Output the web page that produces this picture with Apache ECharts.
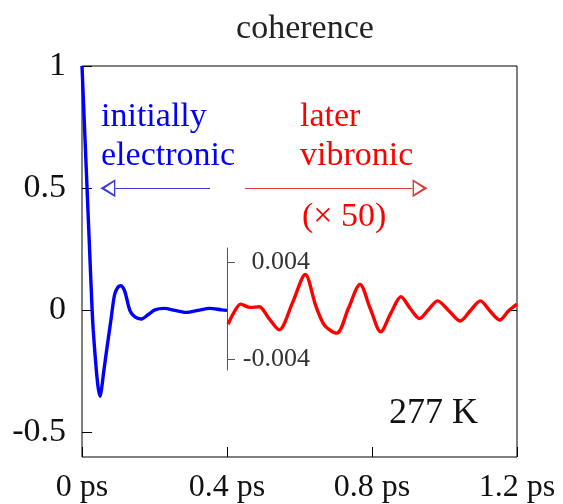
<!DOCTYPE html>
<html>
<head>
<meta charset="utf-8">
<script src="https://cdn.jsdelivr.net/npm/echarts@6/dist/echarts.min.js"></script>
<style>
  html, body { margin: 0; padding: 0; background: #fff; }
  #chart { width: 563px; height: 504px; }
</style>
</head>
<body>
<div id="chart"></div>
<script>
// electronic part (first 0.4 ps)
const blueT = [0, 0.012, 0.022, 0.028, 0.031, 0.037, 0.044, 0.050, 0.055, 0.060, 0.070, 0.080, 0.090, 0.0995, 0.107, 0.118, 0.132, 0.146, 0.164, 0.182, 0.201, 0.227, 0.256, 0.288, 0.320, 0.353, 0.385, 0.4]
const blueV = [1.0, 0.57, 0.21, 0.0, -0.08, -0.20, -0.31, -0.352, -0.31, -0.25, -0.142, -0.037, 0.065, 0.096, 0.101, 0.078, 0.0, -0.027, -0.035, -0.018, 0.002, 0.008, 0.0, -0.008, 0.0, 0.008, 0.002, 0.0]

// vibronic part, in units of the inset axis
const redT = [0.403, 0.42, 0.4375, 0.463, 0.489, 0.515, 0.544, 0.58, 0.616, 0.645, 0.670, 0.703, 0.735, 0.767, 0.795, 0.824, 0.852, 0.880, 0.905, 0.931, 0.956, 0.981, 1.012, 1.043, 1.071, 1.099, 1.125, 1.152, 1.177, 1.2]
const redV = [-0.00111, -0.0001, 0.00054, 0.00027, 0.00032, -0.0006, -0.00157, 0.0006, 0.00297, 0.0004, -0.00124, -0.00184, 0.0002, 0.00216, 0.0002, -0.00173, -0.0002, 0.00114, 0.0002, -0.00065, 0.0001, 0.00081, 0.0, -0.00084, 0.0, 0.00081, 0.0, -0.00076, 0.0, 0.00054]

const yTicks = [-0.5, 0, 0.5, 1]
const insetTicks = [-0.004, 0.004]

// arrow annotations (data units): [start, end] along y = 0.5
const arrowBlue = [0.353, 0.092]
const arrowRed = [0.449, 0.912]
const arrowY = 0.5

const serif = '"Liberation Serif", "DejaVu Serif", serif'
// open triangle pointing up; the bottom point pushes the box centre onto the base
const headPath = 'path://M6,0 L12,12 L0,12 Z M6,3.4 L1.9,10.9 L10.1,10.9 Z M6,23.9 L6,24'

const chart = echarts.init(document.getElementById('chart'))

const option = {
  animation: false,
  backgroundColor: '#fff',
  title: {
    text: 'coherence',
    left: 300,
    top: 7,
    textAlign: 'center',
    textStyle: { fontFamily: serif, fontSize: 34, fontWeight: 'normal', color: '#222' }
  },
  grid: [
    { left: 82, right: 46, top: 66, bottom: 47, show: true, borderColor: '#000', borderWidth: 1, outerBoundsMode: 'none' },
    { left: 227, right: 46, top: 248, bottom: 134, show: false, outerBoundsMode: 'none' }
  ],
  xAxis: [
    {
      type: 'value', gridIndex: 0, min: 0, max: 1.2, interval: 0.4,
      axisLine: { show: false, onZero: false },
      axisTick: { inside: true, length: 10, lineStyle: { color: '#000' } },
      splitLine: { show: false },
      axisLabel: {
        margin: 15, fontFamily: serif, fontSize: 32, color: '#111',
        formatter: v => v + ' ps'
      }
    },
    { type: 'value', gridIndex: 1, min: 0.4, max: 1.2, show: false, axisLine: { onZero: false } }
  ],
  yAxis: [
    {
      type: 'value', gridIndex: 0, min: -0.6, max: 1,
      axisLine: { show: false, onZero: false },
      axisTick: { inside: true, length: 10, customValues: yTicks, lineStyle: { color: '#000' } },
      splitLine: { show: false },
      axisLabel: {
        customValues: yTicks, margin: 16, fontFamily: serif, fontSize: 34, color: '#111',
        padding: [4, 0, 0, 0],
        formatter: v => String(v)
      }
    },
    {
      type: 'value', gridIndex: 0, min: -0.6, max: 1, position: 'right',
      axisLine: { show: false, onZero: false },
      axisTick: { inside: true, length: 7, customValues: [0], lineStyle: { color: '#000' } },
      axisLabel: { show: false },
      splitLine: { show: false }
    },
    {
      type: 'value', gridIndex: 1, min: -0.00486, max: 0.00514, position: 'left',
      axisLine: { show: true, onZero: false, lineStyle: { color: '#555', width: 1 } },
      axisTick: { inside: true, length: 8, customValues: insetTicks, lineStyle: { color: '#555' } },
      splitLine: { show: false },
      axisLabel: {
        inside: true, align: 'right', margin: 83, customValues: insetTicks,
        fontFamily: serif, fontSize: 26, color: '#333',
        formatter: v => String(v)
      }
    }
  ],
  series: [
    {
      type: 'line', xAxisIndex: 0, yAxisIndex: 0,
      data: blueT.map((t, i) => [t, blueV[i]]),
      smooth: 0.3, showSymbol: false,
      lineStyle: { color: '#0000ff', width: 3.4 },
      markLine: {
        silent: true, animation: false,
        symbol: ['none', headPath], symbolSize: [18, 30],
        label: { show: false },
        lineStyle: { color: '#3c3cd2', width: 1, type: 'solid' },
        data: [
          [{ coord: [arrowBlue[0], arrowY] }, { coord: [arrowBlue[1], arrowY] }]
        ]
      }
    },
    {
      type: 'line', xAxisIndex: 0, yAxisIndex: 0,
      data: [],
      markLine: {
        silent: true, animation: false,
        symbol: ['none', headPath], symbolSize: [18, 30],
        label: { show: false },
        lineStyle: { color: '#dc3c3c', width: 1, type: 'solid' },
        data: [
          [{ coord: [arrowRed[0], arrowY] }, { coord: [arrowRed[1], arrowY] }]
        ]
      }
    },
    {
      type: 'line', xAxisIndex: 1, yAxisIndex: 2,
      data: redT.map((t, i) => [t, redV[i]]),
      smooth: 0.3, showSymbol: false,
      lineStyle: { color: '#ff0000', width: 3.4 }
    }
  ],
  graphic: [
    { type: 'text', x: 101, y: 117, style: { text: 'initially', fill: '#0000ff', font: '34px ' + serif, align: 'left', verticalAlign: 'middle' } },
    { type: 'text', x: 101, y: 156, style: { text: 'electronic', fill: '#0000ff', font: '34px ' + serif, align: 'left', verticalAlign: 'middle' } },
    { type: 'text', x: 300, y: 117, style: { text: 'later', fill: '#ff0000', font: '34px ' + serif, align: 'left', verticalAlign: 'middle' } },
    { type: 'text', x: 300, y: 156, style: { text: 'vibronic', fill: '#ff0000', font: '34px ' + serif, align: 'left', verticalAlign: 'middle' } },
    { type: 'text', x: 302, y: 217, style: { text: '(\u00d7 50)', fill: '#ff0000', font: '34px ' + serif, align: 'left', verticalAlign: 'middle' } },
    { type: 'text', x: 478, y: 414, style: { text: '277 K', fill: '#111', font: '36px ' + serif, align: 'right', verticalAlign: 'middle' } }
  ]
}

chart.setOption(option)
</script>
</body>
</html>
